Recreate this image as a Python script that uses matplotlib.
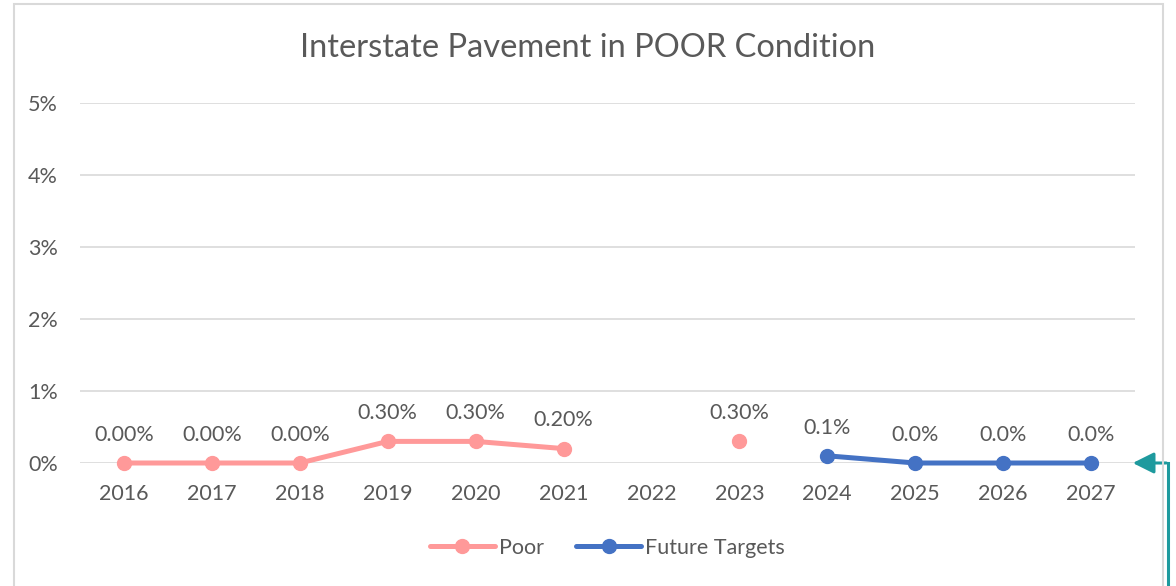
import matplotlib.pyplot as plt
import numpy as np
from matplotlib.patches import Rectangle

plt.rcParams['font.family'] = ['Lato', 'DejaVu Sans']

years = list(range(2016, 2028))
poor = [0.0, 0.0, 0.0, 0.3, 0.3, 0.2, np.nan, 0.3, np.nan, np.nan, np.nan, np.nan]
poor_labels = ["0.00%", "0.00%", "0.00%", "0.30%", "0.30%", "0.20%", "", "0.30%", "", "", "", ""]
targets = [np.nan] * 8 + [0.1, 0.0, 0.0, 0.0]
target_labels = [""] * 8 + ["0.1%", "0.0%", "0.0%", "0.0%"]

txt = "#595959"
fs = 15.5
fig = plt.figure(figsize=(11.76, 5.86), dpi=100)
ax = fig.add_axes([80/1176, 1-463/586, 1055/1176, 360/586])

# chart border
fig.add_artist(Rectangle((14/1176, -0.05), 1149/1176, 1-4/586+0.05, transform=fig.transFigure,
                         fill=False, edgecolor="#d9d9d9", linewidth=1.5))

ax.plot(years, poor, color="#FF9999", lw=3.6, marker="o", ms=10, label="Poor",
        solid_capstyle="round", clip_on=False, zorder=3)
ax.plot(years, targets, color="#4472C4", lw=3.6, marker="o", ms=10, label="Future Targets",
        solid_capstyle="round", clip_on=False, zorder=3)

for x, y, s in zip(years, poor, poor_labels):
    if s:
        ax.annotate(s, (x, y), xytext=(0, 16), textcoords="offset points", ha="center", fontsize=fs, color=txt)
for x, y, s in zip(years, targets, target_labels):
    if s:
        ax.annotate(s, (x, y), xytext=(0, 16), textcoords="offset points", ha="center", fontsize=fs, color=txt)

ax.set_xlim(2015.5, 2027.5)
ax.set_ylim(0, 5)
ax.set_xticks(years)
ax.set_xticklabels([str(y) for y in years], fontsize=fs, color=txt)
ax.set_yticks(range(6))
ax.set_yticklabels([f"{i}%" for i in range(6)], fontsize=fs, color=txt)
ax.tick_params(length=0)
ax.tick_params(axis="x", pad=15)
ax.tick_params(axis="y", pad=16)
ax.grid(axis="y", color="#d9d9d9", lw=1.2)
ax.set_axisbelow(True)
for s in ax.spines.values():
    s.set_visible(False)

fig.text(588/1176, 1-48/586, "Interstate Pavement in POOR Condition", ha="center", va="center", fontsize=23.5, color=txt)

ax.legend(loc="center", bbox_to_anchor=(0.5, -0.235), ncol=2, frameon=False, fontsize=fs,
          labelcolor=txt, handlelength=3, columnspacing=1.5, handletextpad=0.2)

# teal arrow at right edge
teal = "#1E9A9E"
fig.add_artist(plt.Line2D([1168/1176, 1168/1176], [1-463/586, 0], transform=fig.transFigure, color=teal, lw=2.2))
ax.annotate("", xy=(1130/1176, 1-463/586), xytext=(1169/1176, 1-463/586),
            xycoords="figure fraction", textcoords="figure fraction",
            arrowprops=dict(arrowstyle="-|>", color=teal, lw=2.2, mutation_scale=32), annotation_clip=False)

fig.savefig("out.png", dpi=100)
